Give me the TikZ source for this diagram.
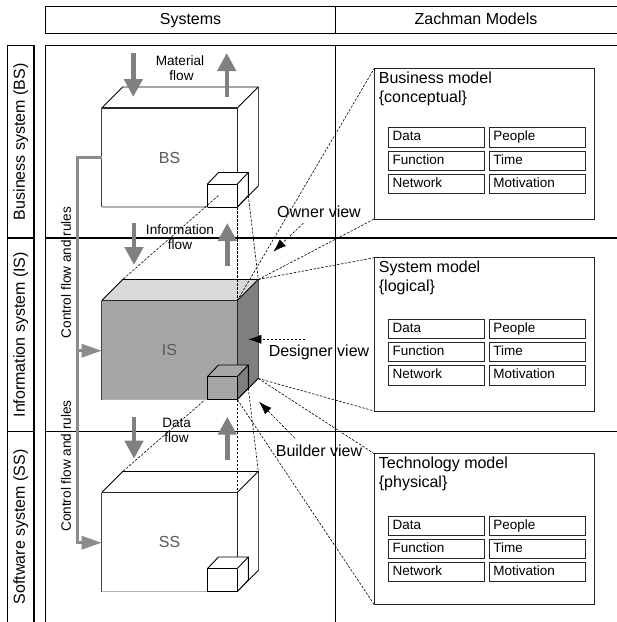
\documentclass[tikz,border=0pt]{standalone}
\usepackage{fontspec}
\setmainfont{Liberation Sans}
\usetikzlibrary{arrows.meta}
\definecolor{flowgray}{HTML}{808080}
\definecolor{isfront}{HTML}{A6A6A6}
\definecolor{istop}{HTML}{D9D9D9}
\definecolor{isside}{HTML}{7F7F7F}
\definecolor{cubetext}{HTML}{595959}
\definecolor{ctrlgray}{HTML}{8C8C8C}
\tikzset{
  gridline/.style={draw=black, line width=1.1pt},
  txtbig/.style={font=\fontsize{16}{19}\selectfont, inner sep=0pt},
  txtsmall/.style={font=\fontsize{13.6}{16}\selectfont, inner sep=0pt},
  flowarrow/.style={draw=flowgray, line width=4.4pt, -{Triangle[length=18pt,width=18pt]}},
  ctrlline/.style={draw=ctrlgray, line width=3pt},
  ctrlarrow/.style={ctrlline, -{Triangle[length=20pt,width=13pt]}},
  viewline/.style={draw=black, line width=0.6pt, dash pattern=on 2.5pt off 1.5pt},
  viewarrow/.style={viewline, -{Latex[length=13pt,width=9pt]}},
  modelbox/.style={draw=black!85, line width=1pt, anchor=north west, minimum width=220pt, inner sep=0pt, outer sep=0pt},
  cell/.style={draw=black!85, line width=1pt, anchor=north west, minimum height=19.5pt, text width=88pt, align=left, inner xsep=4pt, inner ysep=0pt, outer sep=0pt, text height=10pt, text depth=3pt, font=\fontsize{13.5}{16}\selectfont},
  pics/bigcube/.style n args={3}{code={
    \fill[#1] (0,0) rectangle (135.6,99);
    \fill[#2] (0,0) -- (21,-21) -- (156.6,-21) -- (135.6,0) -- cycle;
    \fill[#3] (135.6,0) -- (156.6,-21) -- (156.6,78) -- (135.6,99) -- cycle;
    \draw[line width=0.8pt] (0,0) -- (21,-21) -- (156.6,-21) -- (135.6,0);
    \draw[line width=0.8pt, black!70] (156.6,-21) -- (156.6,78);
    \draw[line width=0.8pt] (156.6,78) -- (135.6,99);
    \draw[line width=1.2pt, black!75] (0,99) -- (0,0);
    \draw[line width=1.5pt, black!85] (0,0) -- (135.6,0) -- (135.6,99);
    \draw[line width=1.5pt, black!30] (0,99) -- (135.6,99);
    \coordinate (-ftl) at (0,0);
    \coordinate (-ftr) at (135.6,0);
    \coordinate (-fbr) at (135.6,99);
    \coordinate (-btl) at (21,-21);
    \coordinate (-btr) at (156.6,-21);
    \coordinate (-bbr) at (156.6,78);
  }},
  pics/smallcube/.style n args={3}{code={
    \fill[#1] (0,0) rectangle (29.8,23);
    \fill[#2] (0,0) -- (11,-11.5) -- (40.8,-11.5) -- (29.8,0) -- cycle;
    \fill[#3] (29.8,0) -- (40.8,-11.5) -- (40.8,11.5) -- (29.8,23) -- cycle;
    \draw[line width=0.9pt] (0,23) -- (0,0) -- (29.8,0);
    \draw[line width=0.9pt] (0,0) -- (11,-11.5) -- (40.8,-11.5) -- (29.8,0);
    \draw[line width=0.9pt] (40.8,-11.5) -- (40.8,11.5) -- (29.8,23);
    \draw[line width=0.9pt] (0,23) -- (29.8,23);
    \draw[line width=1.6pt] (29.8,0) -- (29.8,23);
    \coordinate (-bbl) at (11,11.5);
    \coordinate (-bbr) at (40.8,11.5);
    \coordinate (-fbr) at (29.8,23);
  }},
}
\newcommand\zachcells[3]{%
  \node[cell] (#1-data)   at (388.7,#2) {Data};
  \node[cell] (#1-people) at (489.3,#2) {People};
  \node[cell] (#1-func)   at (388.7,#2+#3) {Function};
  \node[cell] (#1-time)   at (489.3,#2+#3) {Time};
  \node[cell] (#1-net)    at (388.7,#2+2*#3) {Network};
  \node[cell] (#1-mot)    at (489.3,#2+2*#3) {Motivation};
}
\begin{document}
\begin{tikzpicture}[x=1pt,y=-1pt]
\useasboundingbox (0,0) rectangle (617,622);
\clip (0,0) rectangle (617,622);
\fill[white] (0,0) rectangle (617,622);

% header
\draw[gridline] (45.7,6.7) rectangle (620,33.3);
\draw[gridline] (335.3,6.7) -- (335.3,33.3);
\node[txtbig, anchor=base] (hsys) at (190.5,24.5) {Systems};
\node[txtbig, anchor=base] (hzach) at (476,24.5) {Zachman Models};

% main grid
\draw[gridline] (45.7,45.5) rectangle (620,630);
\draw[gridline] (335.3,45.5) -- (335.3,630);
\draw[gridline] (45.7,238) -- (620,238);
\draw[gridline] (45.7,431.3) -- (620,431.3);

% left column
\draw[gridline] (7.3,45.5) rectangle (34,630);
\draw[gridline] (7.3,238) -- (34,238);
\draw[gridline] (7.3,431.3) -- (34,431.3);
\node[txtbig, rotate=90] (lbs) at (20.7,141.8) {Business system (BS)};
\node[txtbig, rotate=90] (lis) at (20.7,334.7) {Information system (IS)};
\node[txtbig, rotate=90] (lss) at (20.7,526.7) {Software system (SS)};

% hidden projection line IS small cube -> SS
\coordinate (isc-bbl0) at (218.5,388);
\coordinate (ss-btl0) at (122.7,471.5);
\draw[viewline] (isc-bbl0) -- (ss-btl0);

% cubes
\pic (bs) at (101.7,108) {bigcube={white}{white}{white}};
\pic (is) at (101.7,300.5) {bigcube={isfront}{istop}{isside}};
\pic (ss) at (101.7,492.5) {bigcube={white}{white}{white}};
\pic (bsc) at (207.5,184) {smallcube={white}{white}{white}};
\pic (isc) at (207.5,376.5) {smallcube={isfront}{isfront}{isside}};
\pic (ssc) at (207.5,568.5) {smallcube={white}{white}{white}};
\node[txtbig, text=cubetext] (bslbl) at (169.5,157.5) {BS};
\node[txtbig, text=cubetext] (islbl) at (169.5,350) {IS};
\node[txtbig, text=cubetext] (sslbl) at (169.5,542) {SS};

% projection lines
\draw[viewline] (bsc-bbl) -- (is-btl);
\draw[viewline] (bsc-fbr) -- (is-ftr);
\draw[viewline] (bsc-bbr) -- (is-btr);
\draw[viewline] (isc-fbr) -- (ss-ftr);
\draw[viewline] (isc-bbr) -- (ss-btr);

% model boxes
\node[modelbox, minimum height=150.7pt] (bm) at (374.3,68.3) {};
\node[modelbox, minimum height=153.3pt] (sm) at (374.3,257.7) {};
\node[modelbox, minimum height=151pt] (tm) at (374.3,453.7) {};
\node[txtbig, anchor=base west] (bmt1) at (378.7,83) {Business model};
\node[txtbig, anchor=base west] (bmt2) at (378.7,102) {\{conceptual\}};
\node[txtbig, anchor=base west] (smt1) at (378.7,272.7) {System model};
\node[txtbig, anchor=base west] (smt2) at (378.7,291.5) {\{logical\}};
\node[txtbig, anchor=base west] (tmt1) at (378.7,468.7) {Technology model};
\node[txtbig, anchor=base west] (tmt2) at (378.7,487.5) {\{physical\}};
\zachcells{bc}{127.7}{23.3}
\zachcells{sc}{319}{23.3}
\zachcells{tc}{516.3}{23}

% view lines
\draw[viewline] (is-ftr) -- (bm.north west);
\draw[viewline] (is-btr) -- (bm.south west);
\draw[viewline] (is-btr) -- (sm.north west);
\draw[viewline] (is-bbr) -- (sm.south west);
\draw[viewline] (is-bbr) -- (tm.north west);
\draw[viewline] (is-fbr) -- (tm.south west);

% view labels and arrows
\node[txtbig, anchor=base] (owner) at (319,217.3) {Owner view};
\node[txtbig, anchor=base] (designer) at (319,356) {Designer view};
\node[txtbig, anchor=base] (builder) at (319,456.7) {Builder view};
\coordinate (oa1) at (303.3,223.3); \coordinate (oa2) at (273.3,251.7);
\coordinate (da1) at (305,339.3);   \coordinate (da2) at (248.3,339.3);
\coordinate (ba1) at (295,438.3);   \coordinate (ba2) at (259,401.7);
\draw[viewarrow] (oa1) -- (oa2);
\draw[viewarrow] (da1) -- (da2);
\draw[viewarrow] (ba1) -- (ba2);

% flows
\coordinate (mf1) at (133.3,53);  \coordinate (mf2) at (133.3,97);
\coordinate (mf3) at (226.7,97);  \coordinate (mf4) at (226.7,53);
\coordinate (if1) at (134,223);   \coordinate (if2) at (134,265);
\coordinate (if3) at (227.3,266); \coordinate (if4) at (227.3,223);
\coordinate (df1) at (134,416.7); \coordinate (df2) at (134,458.7);
\coordinate (df3) at (227.3,460); \coordinate (df4) at (227.3,416.7);
\draw[flowarrow] (mf1) -- (mf2);
\draw[flowarrow] (mf3) -- (mf4);
\draw[flowarrow] (if1) -- (if2);
\draw[flowarrow] (if3) -- (if4);
\draw[flowarrow] (df1) -- (df2);
\draw[flowarrow] (df3) -- (df4);
\node[txtsmall, anchor=base] (mt1) at (180,65) {Material};
\node[txtsmall, anchor=base] (mt2) at (181.5,80.5) {flow};
\node[txtsmall, anchor=base] (it1) at (180,234) {Information};
\node[txtsmall, anchor=base] (it2) at (180,249.3) {flow};
\node[txtsmall, anchor=base] (dt1) at (176.7,427.3) {Data};
\node[txtsmall, anchor=base] (dt2) at (176.5,442.7) {flow};

% control flow
\coordinate (c0) at (101.7,157);
\coordinate (c1) at (77,157);
\coordinate (c2) at (77,350.7);
\coordinate (c3) at (77,542.7);
\coordinate (cis) at (101.7,350.7);
\coordinate (css) at (101.7,542.7);
\draw[ctrlarrow] (c0) -- (c1) -- (c3) -- (css);
\draw[ctrlarrow] (c2) -- (cis);
\node[txtsmall, rotate=90] (ct1) at (66,272.5) {Control flow and rules};
\node[txtsmall, rotate=90] (ct2) at (66,466) {Control flow and rules};
\end{tikzpicture}
\end{document}
